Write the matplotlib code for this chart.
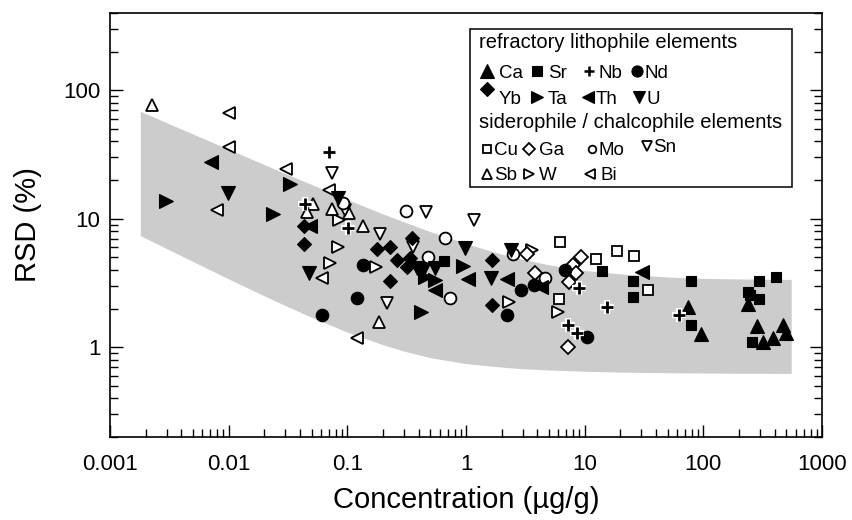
import matplotlib
matplotlib.use('Agg')
import matplotlib.pyplot as plt
from matplotlib.patches import Rectangle
from matplotlib.ticker import LogLocator, FixedLocator, FixedFormatter, NullFormatter

plt.rcParams['font.family'] = ['Liberation Sans', 'DejaVu Sans']

# ---------------- data (concentration in ug/g, RSD in %) ----------------
ca_conc = [74.5, 94.7, 238, 281, 319, 383, 470, 495]
ca_rsd = [2.04, 1.26, 2.17, 1.46, 1.09, 1.19, 1.49, 1.28]

sr_conc = [0.655, 13.9, 25.3, 25.3, 78.5, 78.5, 238, 248, 295, 295, 406, 259]
sr_rsd = [4.69, 3.94, 3.27, 2.47, 3.27, 1.49, 2.70, 2.55, 3.27, 2.37, 3.53, 1.09]

nb_conc = [0.0695, 0.044, 0.102, 8.93, 15.3, 7.18, 8.65, 62.2]
nb_rsd = [33.3, 13.0, 8.42, 2.87, 2.06, 1.49, 1.29, 1.78]

nd_conc = [0.0615, 0.135, 0.120, 2.20, 2.88, 3.76, 6.81, 10.4]
nd_rsd = [1.78, 4.36, 2.40, 1.79, 2.78, 3.05, 3.98, 1.20]

yb_conc = [0.043, 0.043, 0.177, 0.229, 0.260, 0.229, 0.348, 0.336, 0.320, 1.66, 1.66]
yb_rsd = [8.77, 6.32, 5.78, 5.99, 4.77, 3.27, 7.03, 4.92, 4.18, 4.77, 2.13]

ta_conc = [0.00297, 0.0328, 0.0238, 0.451, 0.547, 0.946, 0.415]
ta_rsd = [13.7, 18.5, 10.8, 3.53, 3.33, 4.30, 1.87]

th_conc = [0.0071, 0.0484, 0.547, 1.03, 2.22, 4.25, 30.7]
th_rsd = [27.8, 8.77, 2.78, 3.39, 3.39, 2.95, 3.87]

u_conc = [0.0099, 0.0837, 0.0474, 0.384, 0.435, 0.547, 0.99, 1.61, 2.38]
u_rsd = [15.8, 14.4, 3.76, 4.11, 3.98, 4.11, 5.88, 3.47, 5.70]

cu_conc = [6.18, 12.4, 18.6, 26.1, 33.9, 6.10]
cu_rsd = [6.62, 4.85, 5.63, 5.15, 2.78, 2.37]

ga_conc = [3.24, 3.84, 9.29, 8.0, 8.43, 7.40, 7.18]
ga_rsd = [5.28, 3.78, 5.06, 4.36, 3.76, 3.22, 1.01]

mo_conc = [0.092, 0.312, 0.481, 0.668, 0.731, 2.50, 4.67]
mo_rsd = [13.2, 11.5, 5.00, 7.03, 2.40, 5.31, 3.45]

sn_conc = [0.0746, 0.0955, 0.188, 0.217, 0.359, 0.457, 1.17]
sn_rsd = [22.6, 11.8, 7.56, 2.19, 6.05, 11.3, 9.77]

sb_conc = [0.00227, 0.0516, 0.0454, 0.0746, 0.104, 0.136, 0.186]
sb_rsd = [76.9, 13.0, 11.3, 11.9, 11.0, 8.77, 1.58]

w_conc = [0.0849, 0.0828, 0.0713, 0.174, 2.31, 3.59, 5.91]
w_rsd = [9.77, 6.05, 4.54, 4.23, 2.26, 5.70, 1.89]

bi_conc = [0.0101, 0.0101, 0.0304, 0.0080, 0.070, 0.0607, 0.121]
bi_rsd = [66.2, 36.4, 24.4, 11.8, 16.7, 3.43, 1.18]

# envelope band
band_conc = [0.0018, 0.003, 0.005, 0.01, 0.02, 0.03, 0.05, 0.1, 0.2, 0.3, 0.5,
             1, 2, 3, 5, 10, 20, 50, 100, 200, 550]
band_upper = [68.7, 56.0, 45.7, 34.7, 26.4, 22.5, 18.5, 14.1, 10.9, 9.46, 7.94,
              6.40, 5.30, 4.83, 4.38, 3.96, 3.72, 3.52, 3.44, 3.40, 3.37]
band_lower = [7.40, 5.86, 4.65, 3.40, 2.51, 2.11, 1.71, 1.31, 1.045, 0.933, 0.829,
              0.745, 0.70, 0.68, 0.665, 0.65, 0.64, 0.633, 0.63, 0.627, 0.625]

x_ticks = [0.001, 0.01, 0.1, 1, 10, 100, 1000]
x_ticklabels = ['0.001', '0.01', '0.1', '1', '10', '100', '1000']
y_ticks = [1, 10, 100]
y_ticklabels = ['1', '10', '100']

# ---------------- figure ----------------
fig = plt.figure(figsize=(8.52, 5.2), dpi=100)
ax = fig.add_axes([110 / 852, 1 - 437 / 520, 712 / 852, 424 / 520])
ax.set_xscale('log')
ax.set_yscale('log')
ax.set_xlim(0.001, 1000)
ax.set_ylim(0.2, 400)

ax.fill_between(band_conc, band_lower, band_upper, color='#cccccc', lw=0, zorder=1)

FILLED = dict(mfc='black', mec='black', mew=0.8)
OPEN = dict(mfc='white', mec='black', mew=1.3)

series = [
    (bi_conc, bi_rsd, '<', 8.5, OPEN),
    (w_conc, w_rsd, '>', 8.5, OPEN),
    (sb_conc, sb_rsd, '^', 9, OPEN),
    (sn_conc, sn_rsd, 'v', 9, OPEN),
    (mo_conc, mo_rsd, 'o', 8.5, OPEN),
    (ga_conc, ga_rsd, 'D', 7, OPEN),
    (cu_conc, cu_rsd, 's', 7.5, OPEN),
    (ca_conc, ca_rsd, '^', 9.5, FILLED),
    (sr_conc, sr_rsd, 's', 7.5, FILLED),
    (nd_conc, nd_rsd, 'o', 9, FILLED),
    (yb_conc, yb_rsd, 'D', 7.5, FILLED),
    (ta_conc, ta_rsd, '>', 9.5, FILLED),
    (th_conc, th_rsd, '<', 9.5, FILLED),
    (u_conc, u_rsd, 'v', 9.5, FILLED),
]
for xs, ys, m, ms, st in series:
    ax.plot(xs, ys, ls='none', marker=m, ms=ms, zorder=3, **st)
# Nb plus signs with white halo
ax.plot(nb_conc, nb_rsd, ls='none', marker='+', ms=10, mew=4.5, mec='white', zorder=4)
ax.plot(nb_conc, nb_rsd, ls='none', marker='+', ms=8.5, mew=2.0, mec='black', zorder=5)

# ticks
ax.xaxis.set_major_locator(FixedLocator(x_ticks))
ax.xaxis.set_major_formatter(FixedFormatter(x_ticklabels))
ax.xaxis.set_minor_locator(LogLocator(base=10, subs=range(2, 10), numticks=20))
ax.xaxis.set_minor_formatter(NullFormatter())
ax.yaxis.set_major_locator(FixedLocator(y_ticks))
ax.yaxis.set_major_formatter(FixedFormatter(y_ticklabels))
ax.yaxis.set_minor_locator(LogLocator(base=10, subs=range(2, 10), numticks=20))
ax.yaxis.set_minor_formatter(NullFormatter())

ax.tick_params(which='both', direction='in', top=False, right=True, width=1.0)
ax.tick_params(which='major', length=9, labelsize=16)
ax.tick_params(which='minor', length=5.5)
ax.tick_params(axis='x', which='major', pad=12)
ax.tick_params(axis='y', which='major', pad=7)
for s in ax.spines.values():
    s.set_linewidth(1.2)

ax.set_xlabel('Concentration (µg/g)', fontsize=21)
ax.set_ylabel('RSD (%)', fontsize=21)
ax.xaxis.label.set_va('center')
ax.yaxis.label.set_va('center')
ax.xaxis.set_label_coords(0.5, (437 - 500) / 424)
ax.yaxis.set_label_coords((28 - 110) / 712, 0.5)

# ---------------- legend (drawn manually) ----------------
def P(px, py):
    return ((px - 110) / 712, (437 - py) / 424)

x0, y0 = P(470, 187)
x1, y1 = P(792, 28.5)
ax.add_patch(Rectangle((x0, y0), x1 - x0, y1 - y0, transform=ax.transAxes,
                       facecolor='white', edgecolor='black', lw=1.1, zorder=6))

hdr_fs = 14.5
item_fs = 13.5
ax.text(*P(479, 42), 'refractory lithophile elements', transform=ax.transAxes,
        fontsize=hdr_fs, va='center', ha='left', zorder=7)
ax.text(*P(479, 122), 'siderophile / chalcophile elements', transform=ax.transAxes,
        fontsize=hdr_fs, va='center', ha='left', zorder=7)

legend_items = [
    # marker, style, ms, marker px, text px, row y, label
    ('^', FILLED, 9.5, 487, 496, 71, 'Ca'),
    ('s', FILLED, 7, 537, 545, 71, 'Sr'),
    ('+', dict(mec='black', mew=1.8), 7.5, 589, 595, 71, 'Nb'),
    ('o', FILLED, 8, 637, 642, 71, 'Nd'),
    ('D', FILLED, 7, 487, 496, 97, 'Yb'),
    ('>', FILLED, 9, 537, 545, 97, 'Ta'),
    ('<', FILLED, 9, 588, 593, 97, 'Th'),
    ('v', FILLED, 9, 639, 643, 97, 'U'),
    ('s', OPEN, 5.5, 487, 491, 148.5, 'Cu'),
    ('D', OPEN, 6.5, 529, 536, 148.5, 'Ga'),
    ('o', OPEN, 5.5, 592, 596, 148.5, 'Mo'),
    ('v', OPEN, 7.5, 647, 650, 146, 'Sn'),
    ('^', OPEN, 7.5, 487, 491, 174, 'Sb'),
    ('>', OPEN, 7.5, 529, 536, 174, 'W'),
    ('<', OPEN, 7.5, 590, 598, 174, 'Bi'),
]
for m, st, ms, mx, tx, ry, lab in legend_items:
    my = ry - 8 if lab == 'Yb' else ry
    ax.plot(*P(mx, my), marker=m, ms=ms, ls='none', transform=ax.transAxes,
            zorder=8, clip_on=False, **st)
    ax.text(*P(tx + 3, ry + 2), lab, transform=ax.transAxes, fontsize=item_fs,
            va='center', ha='left', zorder=8)

fig.savefig('out.png', dpi=100)
